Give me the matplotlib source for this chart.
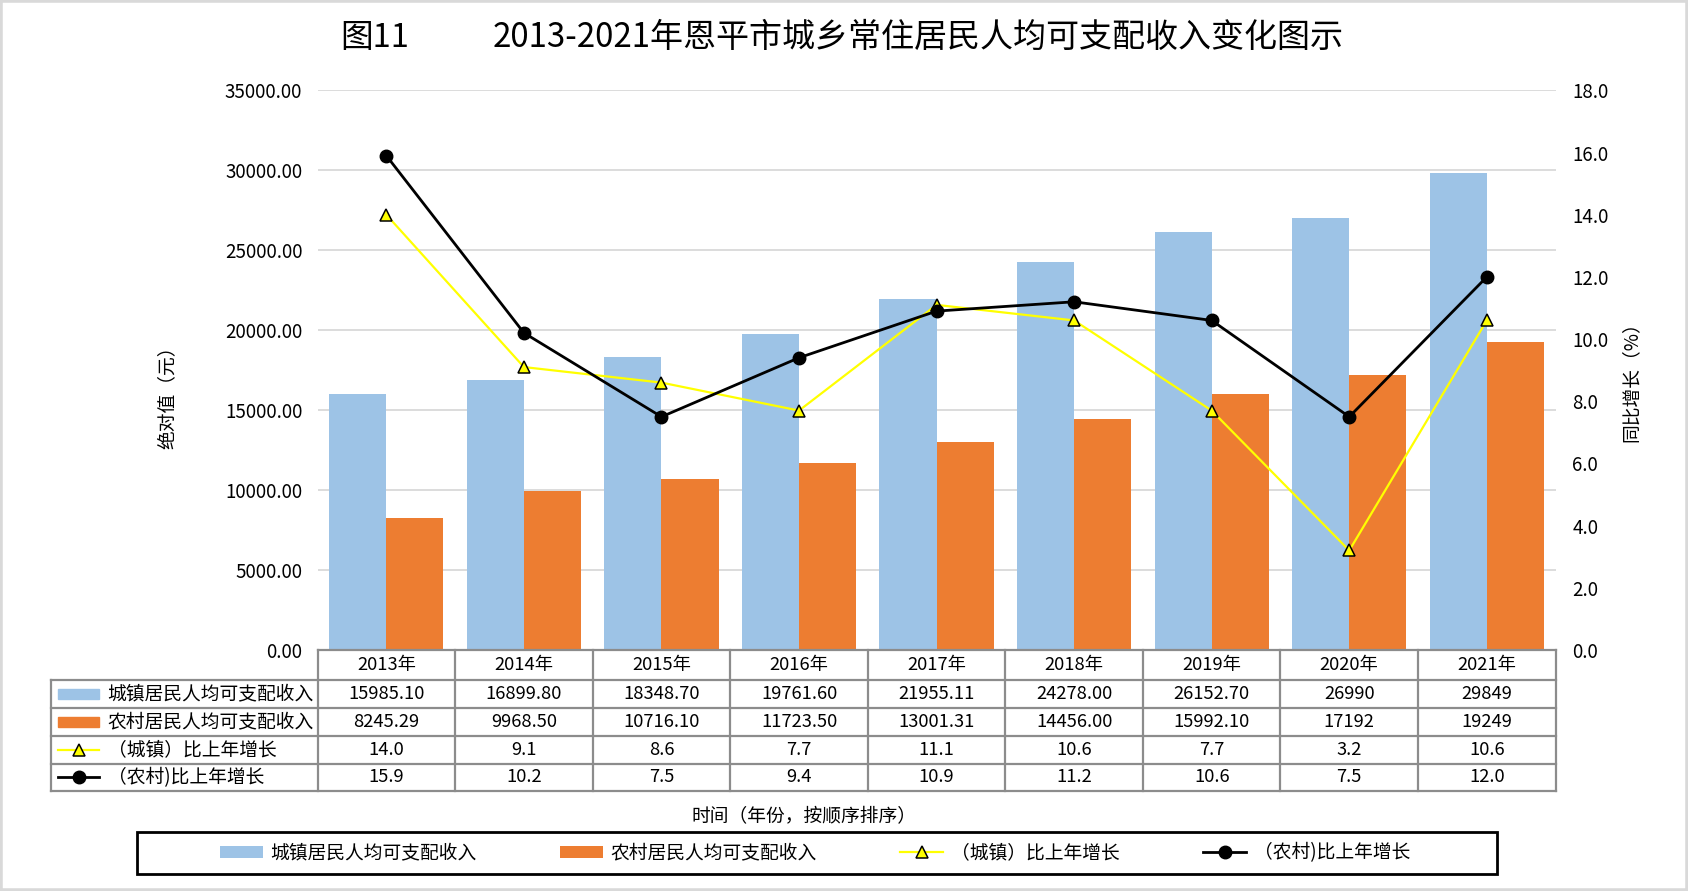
import matplotlib.pyplot as plt
from matplotlib.patches import Rectangle
from matplotlib.lines import Line2D
import numpy as np

plt.rcParams['font.family'] = ['Noto Sans CJK SC', 'DejaVu Sans']

# data
years = ['2013年', '2014年', '2015年', '2016年', '2017年', '2018年', '2019年', '2020年', '2021年']
urban_income = [15985.10, 16899.80, 18348.70, 19761.60, 21955.11, 24278.00, 26152.70, 26990, 29849]
rural_income = [8245.29, 9968.50, 10716.10, 11723.50, 13001.31, 14456.00, 15992.10, 17192, 19249]
urban_growth = [14.0, 9.1, 8.6, 7.7, 11.1, 10.6, 7.7, 3.2, 10.6]
rural_growth = [15.9, 10.2, 7.5, 9.4, 10.9, 11.2, 10.6, 7.5, 12.0]
urban_text = ['15985.10', '16899.80', '18348.70', '19761.60', '21955.11', '24278.00', '26152.70', '26990', '29849']
rural_text = ['8245.29', '9968.50', '10716.10', '11723.50', '13001.31', '14456.00', '15992.10', '17192', '19249']
series_names = ['城镇居民人均可支配收入', '农村居民人均可支配收入', '（城镇）比上年增长', '（农村)比上年增长']

BLUE = '#9DC3E6'
ORANGE = '#ED7D31'
GRID = '#D9D9D9'
TBL = '#8C8C8C'

# layout is measured on a 1568x828 copy of the reference
W, H = 1568.0, 828.0
def fx(x):
    return x / W
def fy(y):
    return 1 - y / H

fig = plt.figure(figsize=(16.88, 8.91), dpi=100)
fig.add_artist(Rectangle((0, 0), 1, 1, transform=fig.transFigure, fill=False,
                         edgecolor=GRID, lw=4))

ax = fig.add_axes([fx(295), fy(604), (1445 - 295) / W, (604 - 84) / H])
x = np.arange(len(years))
bw = 0.415
b1 = ax.bar(x - bw / 2, urban_income, bw, color=BLUE, zorder=2, label=series_names[0])
b2 = ax.bar(x + bw / 2, rural_income, bw, color=ORANGE, zorder=2, label=series_names[1])
ax.set_xlim(-0.5, len(years) - 0.5)
ax.set_ylim(0, 35000)
ax.set_yticks(np.arange(0, 35001, 5000))
ax.set_yticklabels(['%.2f' % v for v in np.arange(0, 35001, 5000)])
ax.set_xticks([])
ax.yaxis.grid(True, color=GRID, lw=1.3, zorder=0)
ax.set_axisbelow(True)
ax.tick_params(axis='y', length=0, pad=11, labelsize=13.5)
for s in ax.spines.values():
    s.set_visible(False)

ax2 = ax.twinx()
l1, = ax2.plot(x, urban_growth, color='#FFFF00', lw=1.6, marker='^', markersize=9,
               markerfacecolor='#FFFF00', markeredgecolor='black', markeredgewidth=1.1,
               zorder=3, label=series_names[2])
l2, = ax2.plot(x, rural_growth, color='black', lw=2, marker='o', markersize=9,
               markerfacecolor='black', markeredgecolor='black', zorder=4,
               label=series_names[3])
ax2.set_ylim(0, 18)
ax2.set_yticks(np.arange(0, 18.1, 2))
ax2.set_yticklabels(['%.1f' % v for v in np.arange(0, 18.1, 2)])
ax2.tick_params(axis='y', length=0, pad=12, labelsize=13.5)
for s in ax2.spines.values():
    s.set_visible(False)

# title and axis titles
fig.text(fx(348), fy(35), '图11', ha='center', va='center', fontsize=23.5)
fig.text(fx(853), fy(35), '2013-2021年恩平市城乡常住居民人均可支配收入变化图示',
         ha='center', va='center', fontsize=23.8)
fig.text(fx(155), fy(365), '绝对值（元）', rotation=90, ha='center', va='center', fontsize=13.5)
fig.text(fx(1515), fy(350), '同比增长（%）', rotation=90, ha='center', va='center', fontsize=13.5)
fig.text(fx(747), fy(759), '时间（年份，按顺序排序）', ha='center', va='center', fontsize=13.5)

# data table under the axis
col_edges = [fx(295) + i * (1445 - 295) / W / len(years) for i in range(len(years) + 1)]
row_edges = [fy(v) for v in (604, 632, 658, 684, 710, 735)]
left = fx(47)

def hline(x0, x1, y):
    fig.add_artist(Line2D([x0, x1], [y, y], transform=fig.transFigure, color=TBL, lw=1.6))
def vline(xx, y0, y1):
    fig.add_artist(Line2D([xx, xx], [y0, y1], transform=fig.transFigure, color=TBL, lw=1.6))

hline(col_edges[0], col_edges[-1], row_edges[0])
for r in row_edges[1:]:
    hline(left, col_edges[-1], r)
vline(left, row_edges[1], row_edges[-1])
for c in col_edges:
    vline(c, row_edges[0], row_edges[-1])

rows = [years, urban_text, rural_text,
        ['%.1f' % v for v in urban_growth], ['%.1f' % v for v in rural_growth]]
for ri, row in enumerate(rows):
    yc = (row_edges[ri] + row_edges[ri + 1]) / 2
    for ci, val in enumerate(row):
        xc = (col_edges[ci] + col_edges[ci + 1]) / 2
        fig.text(xc, yc, val, ha='center', va='center', fontsize=13.2)

# row headers with keys
for i, name in enumerate(series_names):
    yc = (row_edges[i + 1] + row_edges[i + 2]) / 2
    fig.text(fx(100), yc, name, ha='left', va='center', fontsize=13.5)
    if i < 2:
        fig.add_artist(Rectangle((fx(54), yc - 5 / H), 38 / W, 10 / H, transform=fig.transFigure,
                                 color=[BLUE, ORANGE][i]))
    else:
        ln = [l1, l2][i - 2]
        fig.add_artist(Line2D([fx(54), fx(92)], [yc, yc], transform=fig.transFigure,
                              color=ln.get_color(), lw=ln.get_linewidth()))
        fig.add_artist(Line2D([fx(73)], [yc], transform=fig.transFigure, linestyle='none',
                              marker=ln.get_marker(), markersize=ln.get_markersize(),
                              markerfacecolor=ln.get_markerfacecolor(),
                              markeredgecolor=ln.get_markeredgecolor(),
                              markeredgewidth=ln.get_markeredgewidth()))

# legend at the bottom
fig.add_artist(Rectangle((fx(127), fy(812)), (1391 - 127) / W, (812 - 773) / H,
                         transform=fig.transFigure, fill=False, edgecolor='black', lw=2))
fig.legend([b1, b2, l1, l2], series_names, loc='center', bbox_to_anchor=(fx(757), fy(792.5)),
           ncol=4, frameon=False, fontsize=13.5, handlelength=2.3, handleheight=0.6,
           columnspacing=4.45, handletextpad=0.4)

fig.savefig('out.png', dpi=100)
